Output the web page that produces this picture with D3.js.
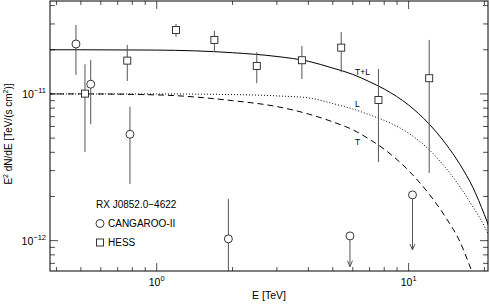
<!DOCTYPE html>
<html>
<head>
<meta charset="utf-8">
<script src="https://cdn.jsdelivr.net/npm/d3@7"></script>
<style>
  body { margin: 0; background: #fff; }
  svg { display: block; font-family: "Liberation Sans", Arial, sans-serif; }
</style>
</head>
<body>
<div id="chart"></div>
<script>
// flux values are in units of 1e-11 TeV/(s cm^2)
const cangE    = [0.478, 0.547, 0.783, 1.925, 5.85, 10.36];
const cangF    = [2.19, 1.165, 0.531, 0.1028, 0.1077, 0.205];
const cangHi   = [2.95, 1.705, 0.819, 0.1924, null, null];
const cangLo   = [1.35, 0.621, 0.2435, 0.05, null, null];
const cangUL   = [false, false, false, false, true, true];
const cangTip  = [null, null, null, null, 0.0665, 0.0864];

const hessE    = [0.519, 0.764, 1.193, 1.694, 2.496, 3.77, 5.40, 7.59, 12.07];
const hessF    = [1.005, 1.687, 2.73, 2.335, 1.552, 1.697, 2.068, 0.910, 1.28];
const hessHi   = [1.594, 2.158, 3.0, 2.69, 1.925, 2.124, 2.646, 1.48, 2.335];
const hessLo   = [0.402, 1.226, 2.45, 1.933, 1.183, 1.265, 1.406, 0.344, 0.289];

const modelE   = [0.37, 0.5, 1, 2, 3, 4, 5, 6, 7, 8, 10, 12, 14, 16, 18, 20, 21];
const totalF   = [2.0, 2.0, 1.99, 1.91, 1.80, 1.67, 1.50, 1.36, 1.21, 1.08, 0.84, 0.63, 0.46, 0.33, 0.23, 0.15, 0.12];
const leptF    = [1.0, 1.0, 1.0, 0.99, 0.97, 0.94, 0.86, 0.79, 0.72, 0.66, 0.54, 0.42, 0.315, 0.232, 0.17, 0.125, 0.105];
const tEnd     = [0.37, 0.5, 1, 2, 3, 4, 5, 6, 7, 8, 10, 12, 14, 16, 17.8];
const thermF   = [1.0, 1.0, 0.985, 0.90, 0.82, 0.73, 0.645, 0.57, 0.49, 0.42, 0.30, 0.21, 0.145, 0.098, 0.062];

const xMajor = [1, 10];
const xMinor = [0.4, 0.5, 0.6, 0.7, 0.8, 0.9, 2, 3, 4, 5, 6, 7, 8, 9, 20];
const yMajor = [0.1, 1];
const yMinor = [0.07, 0.08, 0.09, 0.2, 0.3, 0.4, 0.5, 0.6, 0.7, 0.8, 0.9, 2, 3, 4];
const xLabels = [["10", "0"], ["10", "1"]];
const yLabels = [["10", "\u221212"], ["10", "\u221211"]];

const W = 490, H = 305;
const m = { top: 1, right: 2, bottom: 34, left: 50 };

const svg = d3.select("#chart").append("svg")
  .attr("width", W).attr("height", H);

const x = d3.scaleLog().domain([0.377, 20.66]).range([m.left, W - m.right]);
const y = d3.scaleLog().domain([0.0621, 4.30]).range([H - m.bottom, m.top]);

svg.append("clipPath").attr("id", "clip")
  .append("rect")
  .attr("x", m.left).attr("y", m.top)
  .attr("width", W - m.left - m.right).attr("height", H - m.top - m.bottom);

// ticks on all four sides, pointing inward
const tickCol = "#222";
function xTicks(vals, len) {
  const g = svg.append("g").attr("stroke", tickCol).attr("stroke-width", 0.8);
  vals.forEach(v => {
    g.append("line").attr("x1", x(v)).attr("x2", x(v))
      .attr("y1", H - m.bottom).attr("y2", H - m.bottom - len);
    g.append("line").attr("x1", x(v)).attr("x2", x(v))
      .attr("y1", m.top).attr("y2", m.top + len);
  });
}
function yTicks(vals, len) {
  const g = svg.append("g").attr("stroke", tickCol).attr("stroke-width", 0.8);
  vals.forEach(v => {
    g.append("line").attr("y1", y(v)).attr("y2", y(v))
      .attr("x1", m.left).attr("x2", m.left + len);
    g.append("line").attr("y1", y(v)).attr("y2", y(v))
      .attr("x1", W - m.right).attr("x2", W - m.right - len);
  });
}
xTicks(xMajor, 8); xTicks(xMinor, 4);
yTicks(yMajor, 8); yTicks(yMinor, 5);

// tick labels with superscripts
xMajor.forEach((v, i) => {
  const t = svg.append("text").attr("x", x(v)).attr("y", 286)
    .attr("text-anchor", "middle").attr("font-size", 10.5);
  t.append("tspan").text(xLabels[i][0]);
  t.append("tspan").attr("dy", -5).attr("font-size", 7.5).text(xLabels[i][1]);
});
yMajor.forEach((v, i) => {
  const t = svg.append("text").attr("x", 46).attr("y", y(v) + 4)
    .attr("text-anchor", "end").attr("font-size", 10.5);
  t.append("tspan").text(yLabels[i][0]);
  t.append("tspan").attr("dy", -5).attr("font-size", 7.5).text(yLabels[i][1]);
});

// axis titles
svg.append("text").attr("x", 269).attr("y", 299)
  .attr("text-anchor", "middle").attr("font-size", 10.5).text("E [TeV]");

const yt = svg.append("text")
  .attr("transform", "translate(12,134) rotate(-90)")
  .attr("text-anchor", "middle").attr("font-size", 10);
yt.append("tspan").text("E");
yt.append("tspan").attr("dy", -4).attr("font-size", 7).text("2");
yt.append("tspan").attr("dy", 4).text(" dN/dE [TeV/(s cm");
yt.append("tspan").attr("dy", -4).attr("font-size", 7).text("2");
yt.append("tspan").attr("dy", 4).text(")]");

// model curves
const plot = svg.append("g").attr("clip-path", "url(#clip)");
const line = d3.line().x(d => x(d[0])).y(d => y(d[1])).curve(d3.curveMonotoneX);

plot.append("path").datum(d3.zip(modelE, totalF)).attr("d", line)
  .attr("fill", "none").attr("stroke", "#000").attr("stroke-width", 1);
plot.append("path").datum(d3.zip(modelE, leptF)).attr("d", line)
  .attr("fill", "none").attr("stroke", "#000").attr("stroke-width", 1)
  .attr("stroke-dasharray", "1,2");
plot.append("path").datum(d3.zip(tEnd, thermF)).attr("d", line)
  .attr("fill", "none").attr("stroke", "#000").attr("stroke-width", 1)
  .attr("stroke-dasharray", "6,4");

svg.append("text").attr("x", 355).attr("y", 75).attr("font-size", 8.5).text("T+L");
svg.append("text").attr("x", 355).attr("y", 107).attr("font-size", 8.5).text("L");
svg.append("text").attr("x", 355).attr("y", 145).attr("font-size", 8.5).text("T");

// error bars
const errCol = "#555";
hessE.forEach((e, i) => {
  plot.append("line").attr("x1", x(e)).attr("x2", x(e))
    .attr("y1", y(hessHi[i])).attr("y2", y(hessLo[i]))
    .attr("stroke", errCol).attr("stroke-width", 1);
});
cangE.forEach((e, i) => {
  if (cangUL[i]) {
    const tip = y(cangTip[i]);
    plot.append("line").attr("x1", x(e)).attr("x2", x(e))
      .attr("y1", y(cangF[i])).attr("y2", tip)
      .attr("stroke", errCol).attr("stroke-width", 1);
    plot.append("path")
      .attr("d", `M${x(e) - 2.5},${tip - 6}L${x(e)},${tip}L${x(e) + 2.5},${tip - 6}`)
      .attr("fill", "none").attr("stroke", errCol).attr("stroke-width", 1);
  } else {
    plot.append("line").attr("x1", x(e)).attr("x2", x(e))
      .attr("y1", y(cangHi[i])).attr("y2", y(cangLo[i]))
      .attr("stroke", errCol).attr("stroke-width", 1);
  }
});

// markers
hessE.forEach((e, i) => {
  plot.append("rect").attr("x", x(e) - 3.5).attr("y", y(hessF[i]) - 3.5)
    .attr("width", 7).attr("height", 7)
    .attr("fill", "#fff").attr("stroke", "#222").attr("stroke-width", 0.9);
});
cangE.forEach((e, i) => {
  plot.append("circle").attr("cx", x(e)).attr("cy", y(cangF[i])).attr("r", 4)
    .attr("fill", "#fff").attr("stroke", "#222").attr("stroke-width", 0.9);
});

// frame
svg.append("rect").attr("x", m.left).attr("y", m.top)
  .attr("width", W - m.left - m.right).attr("height", H - m.top - m.bottom)
  .attr("fill", "none").attr("stroke", "#000").attr("stroke-width", 1);

// legend
svg.append("text").attr("x", 96).attr("y", 208).attr("font-size", 10).text("RX J0852.0\u22124622");
svg.append("circle").attr("cx", 100).attr("cy", 223.5).attr("r", 4)
  .attr("fill", "#fff").attr("stroke", "#222").attr("stroke-width", 0.9);
svg.append("text").attr("x", 108).attr("y", 227).attr("font-size", 10).text("CANGAROO-II");
svg.append("rect").attr("x", 96.5).attr("y", 239).attr("width", 7).attr("height", 7)
  .attr("fill", "#fff").attr("stroke", "#222").attr("stroke-width", 0.9);
svg.append("text").attr("x", 108).attr("y", 246).attr("font-size", 10).text("HESS");
</script>
</body>
</html>
